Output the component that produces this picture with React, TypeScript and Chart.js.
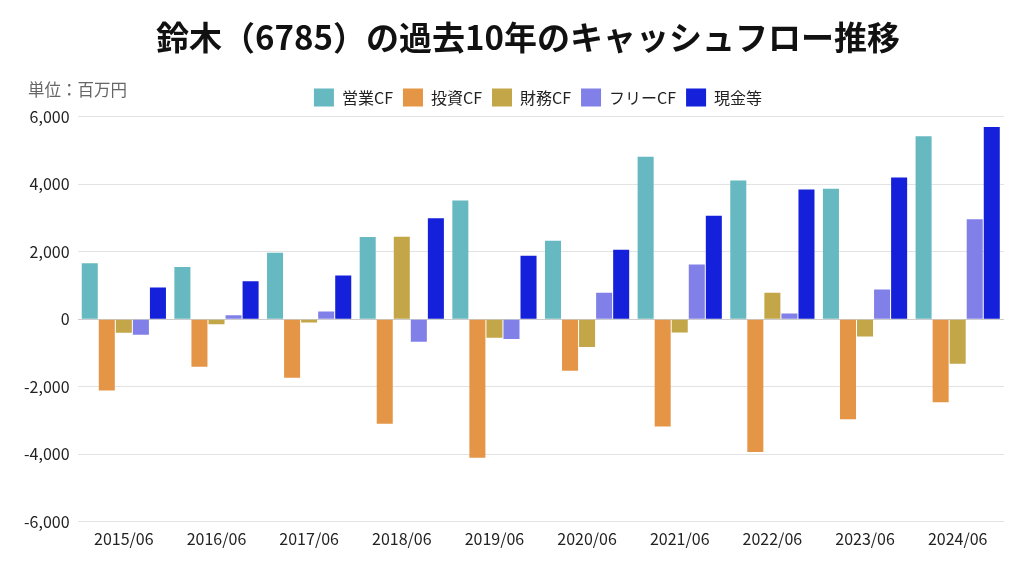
import React, { useEffect, useRef } from "react";
import { Chart, registerables } from "chart.js";

Chart.register(...registerables);

const categories = ["2015/06", "2016/06", "2017/06", "2018/06", "2019/06", "2020/06", "2021/06", "2022/06", "2023/06", "2024/06"];
const operatingCF = [1655, 1549, 1970, 2431, 3519, 2323, 4812, 4106, 3861, 5418];
const investingCF = [-2108, -1411, -1735, -3097, -4106, -1529, -3175, -3930, -2960, -2460];
const financingCF = [-403, -147, -98, 2440, -549, -823, -392, 784, -510, -1323];
const freeCF = [-460, 118, 226, -666, -588, 784, 1617, 167, 882, 2960];
const cash = [941, 1127, 1294, 2989, 1882, 2058, 3067, 3842, 4194, 5694];

const seriesNames = ["営業CF", "投資CF", "財務CF", "フリーCF", "現金等"];
const seriesColors = ["#66b8c1", "#e59546", "#c3a647", "#8080e8", "#1420d9"];
const yTicks = { min: -6000, max: 6000, step: 2000 };

const FONT = "'Noto Sans CJK JP', 'Noto Sans', sans-serif";

const unitLabel = {
  id: "unitLabel",
  afterDraw(chart: any) {
    const ctx = chart.ctx;
    ctx.save();
    ctx.font = `16.5px ${FONT}`;
    ctx.fillStyle = "#666666";
    ctx.textAlign = "left";
    ctx.textBaseline = "middle";
    ctx.fillText("単位：百万円", 28, 90);
    ctx.restore();
  },
};

// Centre the title and legend over the same horizontal positions as the reference.
const headerShift = {
  id: "headerShift",
  afterLayout(chart: any) {
    const t = chart.titleBlock;
    if (t) {
      const dx = 528 - (t.left + t.right) / 2;
      t.left += dx;
      t.right += dx;
    }
    const l = chart.legend;
    if (l) {
      const dx = 538 - (l.left + l.right) / 2;
      l.left += dx;
      l.right += dx;
    }
  },
};

export default function App() {
  const ref = useRef<HTMLCanvasElement | null>(null);
  useEffect(() => {
    if (!ref.current) return;
    const values = [operatingCF, investingCF, financingCF, freeCF, cash];
    const chart = new Chart(ref.current, {
      type: "bar",
      data: {
        labels: categories,
        datasets: seriesNames.map((name, i) => ({
          label: name,
          data: values[i],
          backgroundColor: seriesColors[i],
          borderWidth: 0,
          categoryPercentage: 0.92,
          barPercentage: 0.94,
        })),
      },
      options: {
        animation: false,
        responsive: false,
        maintainAspectRatio: false,
        layout: { padding: { left: 16, right: 20, top: 0, bottom: 27 } },
        plugins: {
          title: {
            display: true,
            text: "鈴木（6785）の過去10年のキャッシュフロー推移",
            font: { family: FONT, size: 33, weight: "bold" },
            color: "#111111",
            padding: { top: 18, bottom: 21 },
          },
          legend: {
            display: true,
            labels: {
              boxWidth: 20,
              boxHeight: 18,
              font: { family: FONT, size: 16 },
              color: "#222222",
              padding: 10,
            },
          },
          tooltip: { enabled: false },
        },
        scales: {
          x: {
            grid: { display: false },
            border: { display: false },
            ticks: { font: { family: FONT, size: 16 }, color: "#222222", maxRotation: 0, padding: 0 },
          },
          y: {
            min: yTicks.min,
            max: yTicks.max,
            border: { display: false },
            grid: {
              color: (c: any) => (c.tick && c.tick.value === 0 ? "#cccccc" : "#e3e3e3"),
              drawTicks: false,
            },
            ticks: {
              stepSize: yTicks.step,
              font: { family: FONT, size: 16 },
              color: "#222222",
              padding: 8,
              callback: (v: any) => Number(v).toLocaleString("en-US"),
            },
          },
        },
      },
      plugins: [unitLabel, headerShift],
    });
    return () => chart.destroy();
  }, []);
  return (
    <div style={{ position: "fixed", left: 0, top: 0, width: 1024, height: 576, background: "#ffffff" }}>
      <canvas ref={ref} width={1024} height={576} style={{ width: 1024, height: 576 }} />
    </div>
  );
}
